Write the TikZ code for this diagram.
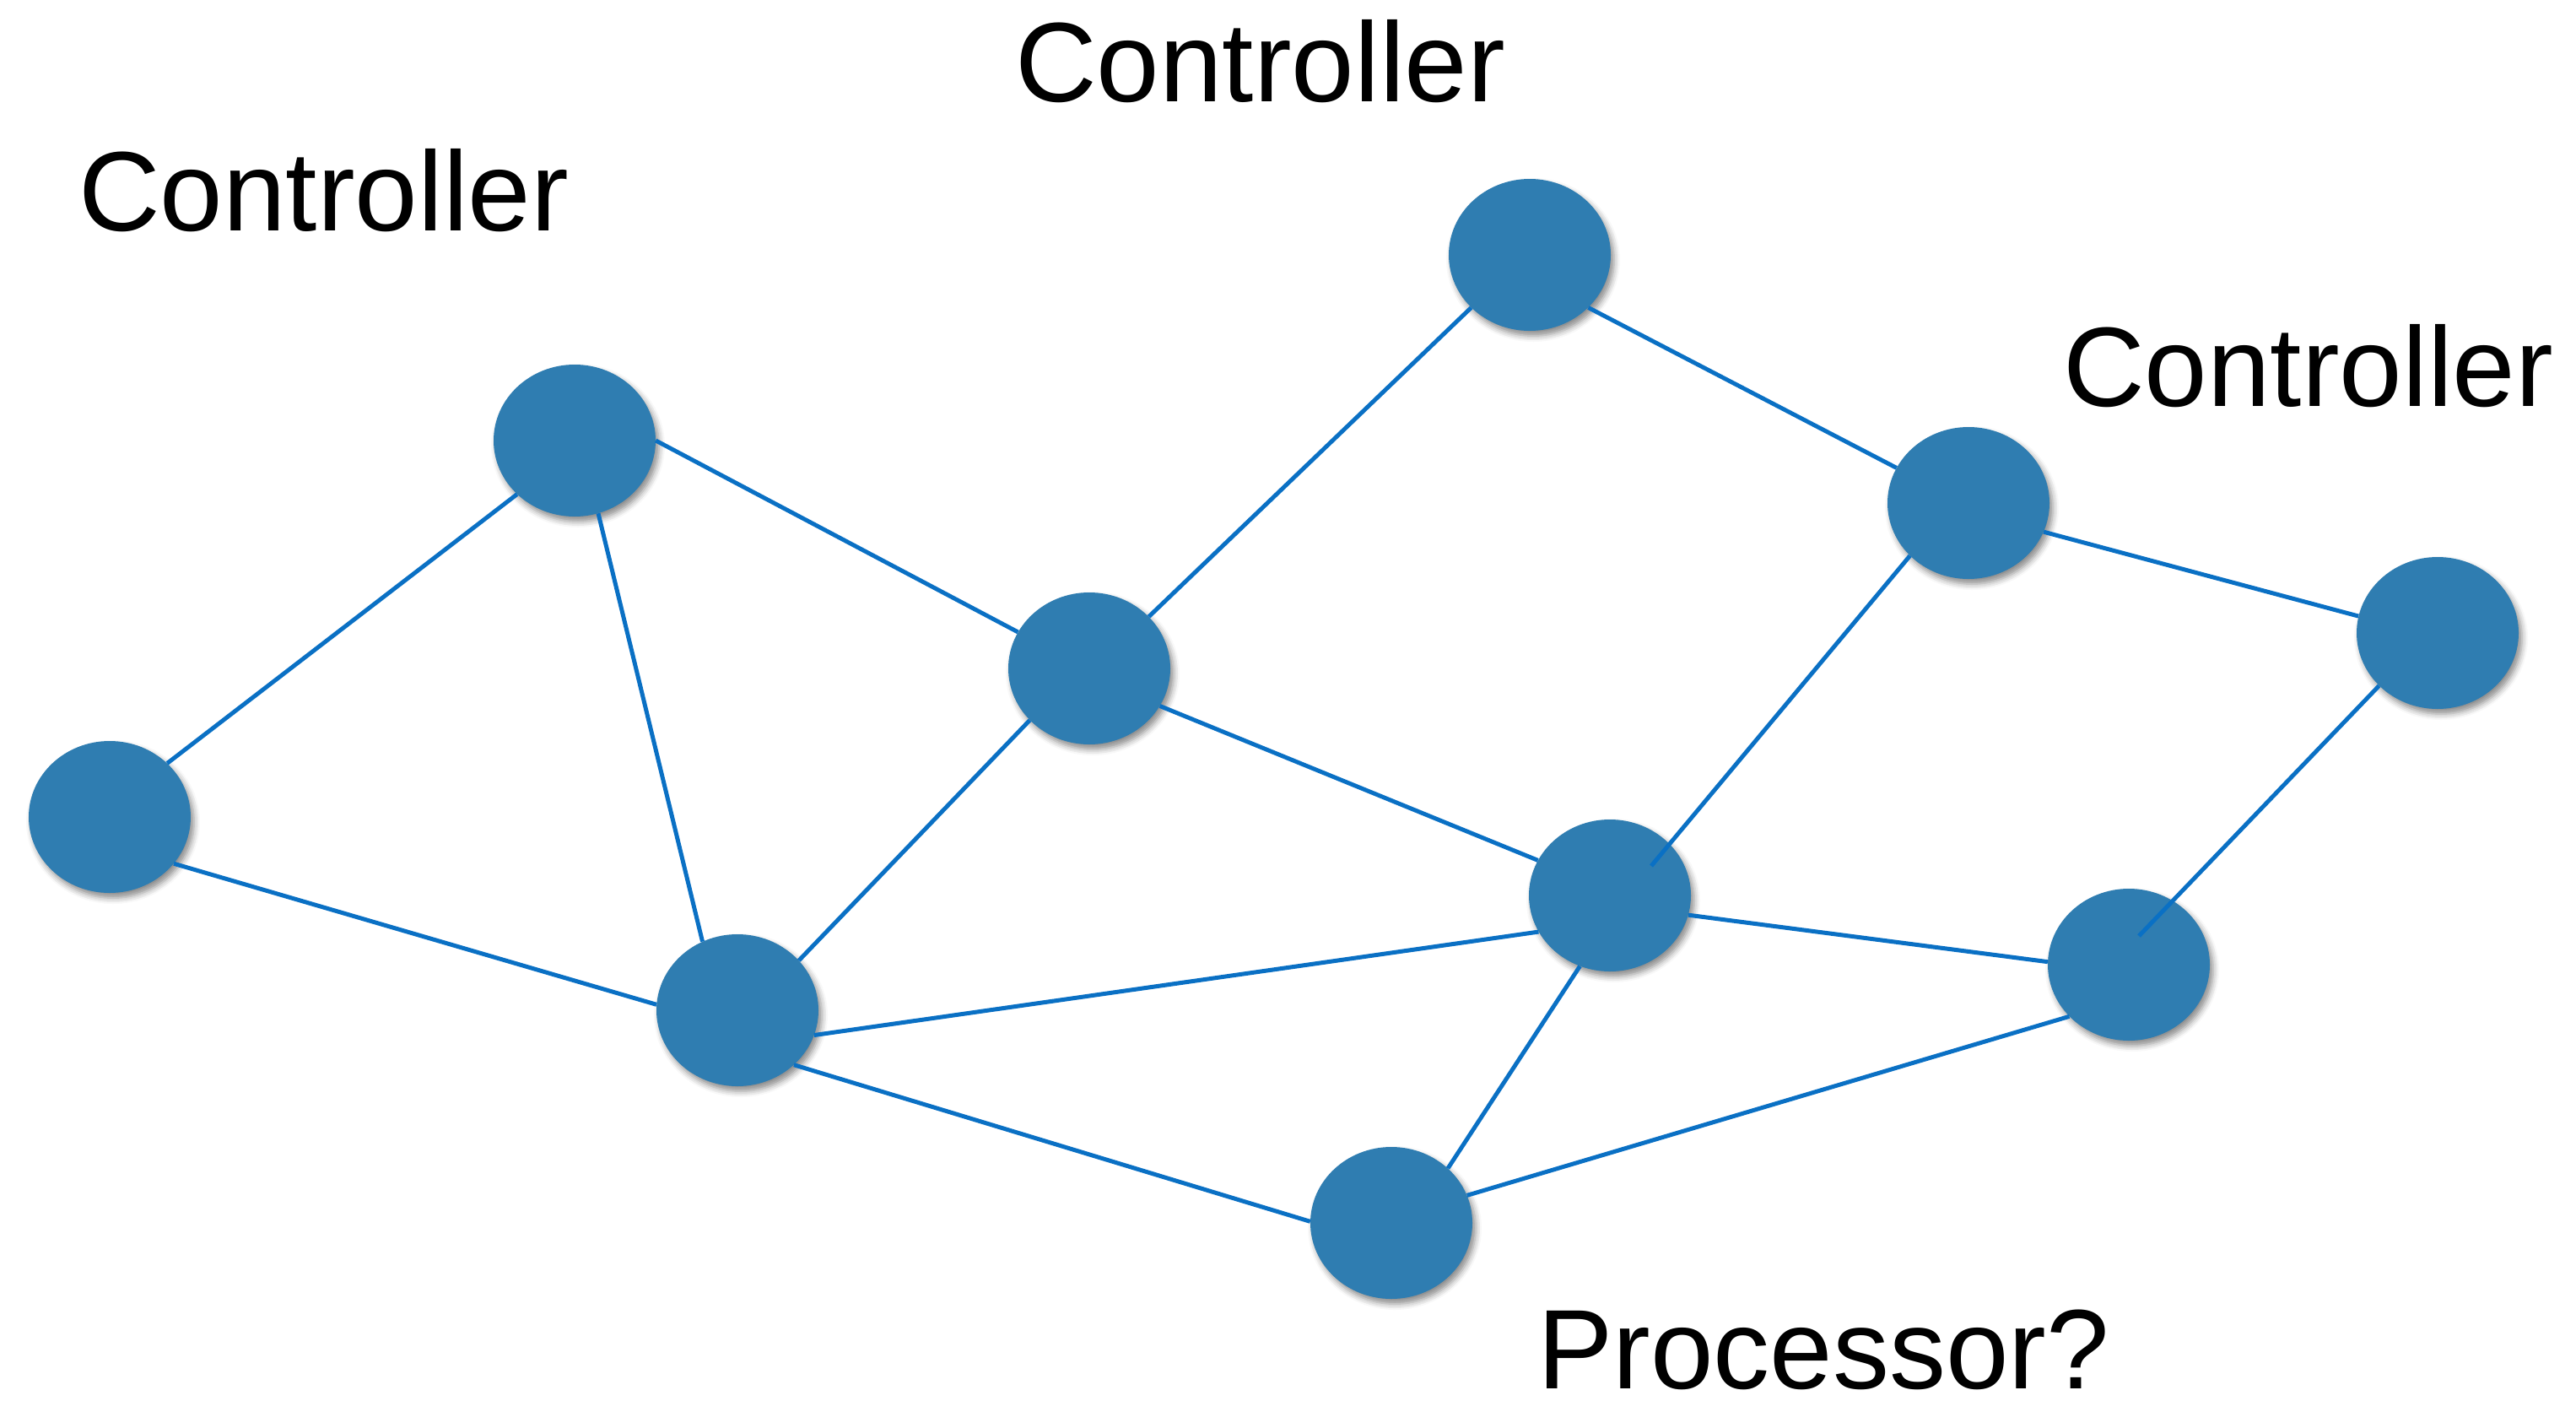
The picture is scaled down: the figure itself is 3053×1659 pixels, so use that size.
\documentclass[tikz,border=0pt]{standalone}
\usepackage{fontspec}
\setmainfont{Liberation Sans}
\usetikzlibrary{shapes.geometric,shadows.blur}
\definecolor{nodeblue}{RGB}{47,125,177}
\definecolor{edgeblue}{RGB}{10,112,196}
\begin{document}
\begin{tikzpicture}[x=1pt,y=-1pt,
  netnode/.style={ellipse, fill=nodeblue, minimum width=192pt, minimum height=180pt, inner sep=0pt,
    blur shadow={shadow xshift=4pt, shadow yshift=-6pt, shadow blur radius=7pt, shadow opacity=45}},
  link/.style={draw=edgeblue, line width=5pt},
  label/.style={anchor=base west, inner sep=0pt, font=\fontsize{134}{150}\selectfont}]
\useasboundingbox (0,0) rectangle (3053,1659);
% nodes
\node[netnode] (A) at (130,968) {};
\node[netnode] (B) at (681,522) {};
\node[netnode] (C) at (1291,792) {};
\node[netnode] (D) at (1813,302) {};
\node[netnode] (E) at (2333,596) {};
\node[netnode] (F) at (2889,750) {};
\node[netnode] (G) at (1908,1061) {};
\node[netnode] (H) at (874,1197) {};
\node[netnode] (I) at (2523,1143) {};
\node[netnode] (J) at (1649,1449) {};
% connectors
\draw[link] (A.43) -- (B.223);
\draw[link] (A.324) -- (H.176);
\draw[link] (B.288) -- (H.117);
\draw[link] (B.0) -- (C.153);
\draw[link] (C.41) -- (D.222);
\draw[link] (C.221) -- (H.39);
\draw[link] (C.332) -- (G.154);
\draw[link] (D.318) -- (E.154);
\draw[link] (E.339) -- (F.168);
\draw[link] (G.207) -- (H.342);
\draw[link] (G.346) -- (I.178);
\draw[link] (G.247) -- (J.44);
\draw[link] (H.316) -- (J.179);
\draw[link] (J.20) -- (I.221);
\coordinate (gin) at (1957,1026);
\coordinate (iin) at (2535,1109);
\draw[link] (E.222) -- (gin);
\draw[link] (F.222) -- (iin);
% labels
\node[label] (t1) at (1203,121) {Controller};
\node[label] (t2) at (93,273) {Controller};
\node[label] (t3) at (2445,481) {Controller};
\node[label] (t4) at (1822,1645) {Processor?};
\end{tikzpicture}
\end{document}
